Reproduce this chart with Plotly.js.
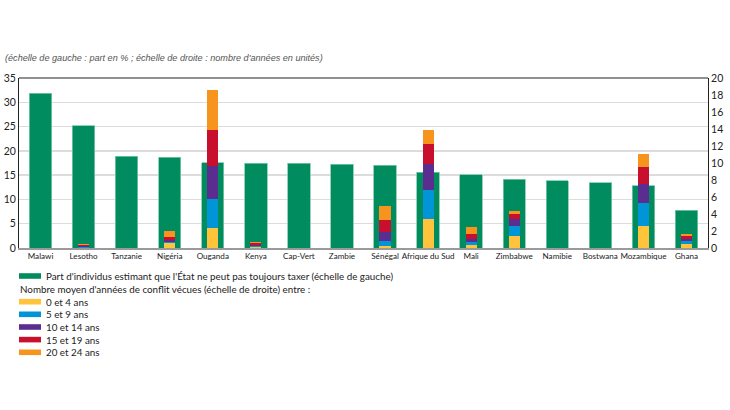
<!DOCTYPE html>
<html>
<head>
<meta charset="utf-8">
<script src="https://cdn.plot.ly/plotly-3.0.1.min.js"></script>
<style>
html,body{margin:0;padding:0;background:#fff;}
#chart{width:730px;height:410px;}
</style>
</head>
<body>
<div id="chart"></div>
<script>
const countries = ["Malawi","Lesotho","Tanzanie","Nigéria","Ouganda","Kenya","Cap-Vert","Zambie","Sénégal","Afrique du Sud","Mali","Zimbabwe","Namibie","Bostwana","Mozambique","Ghana"];
const partTaxer = [31.9,25.2,18.9,18.7,17.6,17.5,17.4,17.2,17.0,15.6,15.1,14.2,13.8,13.4,12.8,7.8];
const ans0_4   = [0,0.05,0,0.55,2.4,0.1,0,0,0.2,3.4,0.3,1.45,0,0,2.6,0.43];
const ans5_9   = [0,0.05,0,0.2,3.4,0.15,0,0,0.6,3.45,0.35,1.15,0,0,2.65,0.35];
const ans10_14 = [0,0.1,0,0.25,3.8,0.15,0,0,1.1,3.0,0.45,0.85,0,0,2.3,0.28];
const ans15_19 = [0,0.15,0,0.35,4.3,0.15,0,0,1.35,2.35,0.55,0.6,0,0,1.95,0.35];
const ans20_24 = [0,0.15,0,0.7,4.65,0.2,0,0,1.65,1.65,0.85,0.3,0,0,1.6,0.24];
const leftTicks = [0,5,10,15,20,25,30,35];
const rightTicks = [0,2,4,6,8,10,12,14,16,18,20];
const greenName = "Part d'individus estimant que l'État ne peut pas toujours taxer (échelle de gauche)";
const groupTitle = "Nombre moyen d'années de conflit vécues (échelle de droite) entre :";
const stackNames = ["0 et 4 ans","5 et 9 ans","10 et 14 ans","15 et 19 ans","20 et 24 ans"];
const stackColors = ["#FFC33C","#0095D6","#5B2D90","#C8102E","#F7941D"];
const stackValues = [ans0_4, ans5_9, ans10_14, ans15_19, ans20_24];
const greenColor = "#008C5E";

const FONT = "Lato, 'Open Sans', sans-serif";
const W = 730, H = 410, ML = 19, MR = 22, MT = 78, MB = 162;
const PW = W - ML - MR, PH = H - MT - MB;
const px = v => (v - ML) / PW;
const py = v => (H - MB - v) / PH;

const traces = [{
  type:"bar", x:countries, y:partTaxer, yaxis:"y", width:0.52, name:greenName,
  marker:{color:greenColor, line:{color:"#7DC8A6", width:0.8}}
}];
stackNames.forEach((n,i) => traces.push({
  type:"bar", x:countries, y:stackValues[i], yaxis:"y2", width:0.26, name:n,
  marker:{color:stackColors[i], line:{width:0}}
}));

// manual legend
const shapes = [{type:"line", xref:"paper", yref:"paper", x0:0, x1:1, y0:1, y1:1, line:{color:"#222", width:1}}];
const annotations = [{
  text:"<i>(échelle de gauche : part en % ; échelle de droite : nombre d'années en unités)</i>",
  xref:"paper", yref:"paper", x:px(3), y:py(58), xanchor:"left", yanchor:"middle", showarrow:false,
  font:{family:"'Liberation Sans Narrow', 'Liberation Sans', sans-serif", size:9.1, color:"#555"}
}];
const rows = [276, 289, 301.7, 314.3, 327, 339.6, 352.3];
const legItems = [{text:greenName, color:greenColor}, {text:groupTitle, color:null}]
  .concat(stackNames.map((n,i) => ({text:n, color:stackColors[i]})));
legItems.forEach((it, i) => {
  const yc = rows[i];
  if (it.color) {
    shapes.push({type:"rect", xref:"paper", yref:"paper", x0:px(19), x1:px(41), y0:py(yc-2.8), y1:py(yc+2.8),
                 fillcolor:it.color, line:{width:0}});
  }
  annotations.push({text:it.text, xref:"paper", yref:"paper", x:px(it.color ? 44 : 18), y:py(yc),
    xanchor:"left", yanchor:"middle", showarrow:false, font:{family:FONT, size:9.8, color:"#222"}});
});

const layout = {
  width:W, height:H,
  margin:{l:ML, r:MR, t:MT, b:MB, autoexpand:false},
  paper_bgcolor:"#fff", plot_bgcolor:"#fff",
  barmode:"stack", bargap:0, showlegend:false,
  font:{family:FONT, size:10, color:"#222"},
  xaxis:{type:"category", range:[-0.5,15.5], showline:true, linecolor:"#9a9a9a", linewidth:1.6,
         ticks:"", tickangle:0, tickfont:{family:FONT,size:8.1,color:"#222"}, showgrid:false, automargin:false},
  yaxis:{range:[0,35], tickvals:leftTicks, showgrid:true, gridcolor:"#dcdcdc", gridwidth:1.4,
         showline:true, linecolor:"#222", linewidth:1, zeroline:false, ticks:"", automargin:false,
         tickfont:{family:FONT,size:10.5,color:"#222"}},
  yaxis2:{range:[0,20], tickvals:rightTicks, overlaying:"y", side:"right", showgrid:false,
          showline:true, linecolor:"#222", linewidth:1, zeroline:false, ticks:"", automargin:false,
          tickfont:{family:FONT,size:10.5,color:"#222"}},
  shapes:shapes, annotations:annotations
};

Plotly.newPlot("chart", traces, layout, {staticPlot:true});
</script>
</body>
</html>
